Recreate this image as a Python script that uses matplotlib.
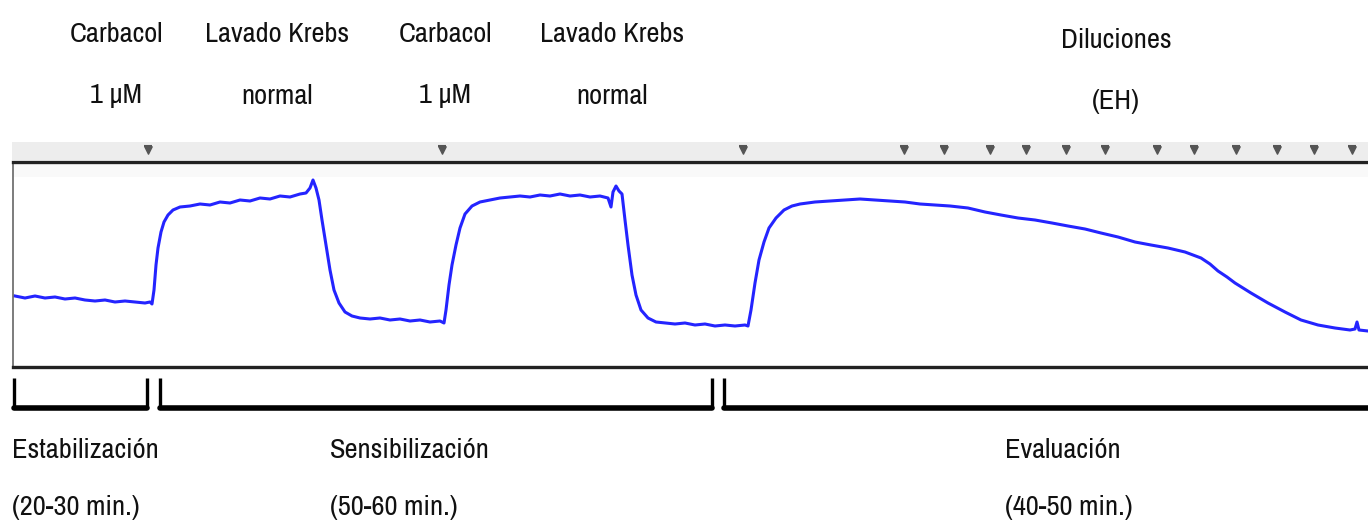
import matplotlib
matplotlib.use("Agg")
import matplotlib.pyplot as plt
import matplotlib.transforms as mtransforms
from matplotlib import font_manager

# pick a narrow face if one is installed
narrow = [f.name for f in font_manager.fontManager.ttflist
          if 'Narrow' in f.name or 'Condensed' in f.name or f.stretch in ('condensed', 'semi-condensed')]
plt.rcParams['font.family'] = sorted(set(narrow))[:1] + ['DejaVu Sans']

# isometric tension trace (time in min, tension in g)
time_min = [0.2, 1.2, 2.2, 3.2, 4.2, 5.2, 6.2, 7.2, 8.2, 9.2, 10.2, 11.2, 12.2, 13.2, 13.7, 13.9,
            14.1, 14.3, 14.5, 14.8, 15.1, 15.5, 16.0, 16.7, 17.7, 18.7, 19.7, 20.7, 21.7, 22.7, 23.7,
            24.7, 25.7, 26.7, 27.7, 28.7, 29.3, 29.7, 30.0, 30.3, 30.6, 30.9, 31.3, 31.7, 32.1, 32.6,
            33.2, 33.9, 34.7, 35.7, 36.7, 37.7, 38.7, 39.7, 40.7, 41.7, 42.7, 43.1,
            43.3, 43.6, 43.9, 44.3, 44.7, 45.2, 45.9, 46.7, 47.7, 48.7, 49.7, 50.7, 51.7, 52.7, 53.7,
            54.7, 55.7, 56.7, 57.7, 58.7, 59.5, 59.8, 60.0, 60.3, 60.6, 60.9, 61.2, 61.5, 61.9, 62.3,
            62.8, 63.5, 64.3, 65.2, 66.2, 67.2, 68.2, 69.2, 70.2, 71.2, 72.2, 73.2, 73.5,
            73.8, 74.2, 74.6, 75.1, 75.6, 76.3, 77.1, 77.9, 78.7, 80.2, 81.7, 83.2, 84.7, 86.2, 87.7,
            89.2, 90.7, 92.2, 93.7, 95.5, 97.2, 98.8, 100.5, 102.2, 103.9, 105.5, 107.2, 108.8, 110.5,
            112.2, 113.8, 115.5, 117.2, 118.8, 119.7, 120.5, 121.4, 122.2, 123.8, 125.5, 127.2, 128.8,
            130.5, 132.2, 133.7, 134.2, 134.4, 134.6, 135.5]
tension_g = [0.71, 0.69, 0.71, 0.69, 0.70, 0.68, 0.69, 0.67, 0.66, 0.67, 0.65, 0.66, 0.65, 0.64, 0.65, 0.63,
             0.77, 1.02, 1.19, 1.35, 1.45, 1.52, 1.57, 1.60, 1.61, 1.63, 1.62, 1.65, 1.64, 1.67, 1.66,
             1.69, 1.68, 1.71, 1.70, 1.73, 1.74, 1.79, 1.87, 1.79, 1.67, 1.47, 1.22, 0.97, 0.77, 0.64,
             0.55, 0.51, 0.49, 0.48, 0.49, 0.47, 0.48, 0.46, 0.47, 0.45, 0.46, 0.44,
             0.57, 0.82, 1.02, 1.22, 1.39, 1.53, 1.61, 1.65, 1.67, 1.69, 1.70, 1.71, 1.70, 1.72, 1.71,
             1.73, 1.71, 1.72, 1.70, 1.71, 1.69, 1.60, 1.75, 1.81, 1.76, 1.73, 1.47, 1.22, 0.92, 0.72,
             0.57, 0.49, 0.45, 0.44, 0.43, 0.44, 0.42, 0.43, 0.41, 0.42, 0.41, 0.42, 0.41,
             0.57, 0.84, 1.07, 1.25, 1.39, 1.49, 1.57, 1.61, 1.63, 1.65, 1.66, 1.67, 1.68, 1.67, 1.66,
             1.65, 1.63, 1.62, 1.61, 1.59, 1.55, 1.52, 1.49, 1.47, 1.44, 1.41, 1.38, 1.34, 1.30,
             1.25, 1.22, 1.19, 1.15, 1.09, 1.03, 0.96, 0.90, 0.84, 0.74, 0.64, 0.55, 0.47,
             0.42, 0.39, 0.37, 0.38, 0.45, 0.37, 0.36]

# event marks on the recorder strip
event_times = [13.5, 42.9, 73.0, 89.1, 93.1, 97.7, 101.3, 105.3, 109.2, 114.4, 118.1, 122.3, 126.4, 130.1, 133.9]

event_line1 = ["Carbacol", "Lavado Krebs", "Carbacol", "Lavado Krebs", "Diluciones"]
event_line2 = ["1 \u00b5M", "normal", "1 \u00b5M", "normal", "(EH)"]
event_label_x = [10.3, 26.4, 43.2, 59.9, 110.3]
event_label_dy = [0, 0, 0, 0, 5]

phase_names = ["Estabilizaci\u00f3n", "Sensibilizaci\u00f3n", "Evaluaci\u00f3n"]
phase_durations = ["(20-30 min.)", "(50-60 min.)", "(40-50 min.)"]
phase_start = [0.1, 14.7, 71.1]
phase_end = [13.4, 69.9, 137.0]
phase_label_x = [-0.1, 31.7, 99.2]

XMAX = 135.5
FS = 20.5

fig = plt.figure(figsize=(13.68, 5.29), dpi=100)

# trace box
ax = fig.add_axes([13 / 1368, 162 / 529, 1355 / 1368, 205 / 529])
ax.axhspan(1.90, 2.05, color='#f9f9f9', lw=0, zorder=0)
ax.plot(time_min, tension_g, color='#2424ff', lw=2.2, solid_joinstyle='round')
ax.set_xlim(0, XMAX)
ax.set_ylim(0, 2.05)
ax.set_xticks([])
ax.set_yticks([])
ax.spines['right'].set_visible(False)
ax.spines['top'].set_linewidth(2.4)
ax.spines['bottom'].set_linewidth(2.4)
ax.spines['top'].set_color('#222222')
ax.spines['bottom'].set_color('#222222')
ax.spines['left'].set_linewidth(1.2)
ax.spines['left'].set_color('#666666')

# event strip
strip = fig.add_axes([12 / 1368, 369 / 529, 1356 / 1368, 18 / 529])
strip.set_xlim(-0.1, XMAX)
strip.set_ylim(0, 1)
strip.axis('off')
strip.add_patch(plt.Rectangle((0, 0), 1, 1, transform=strip.transAxes, color='#ededed', zorder=0))
strip.scatter(event_times, [0.55] * len(event_times), marker='v', s=28, color='#555555', zorder=3)
strip.scatter(event_times, [0.8] * len(event_times), marker='_', s=40, color='#555555', lw=1.5, zorder=3)

top_tr = mtransforms.blended_transform_factory(strip.transData, fig.transFigure)
for l1, l2, xl, dy in zip(event_line1, event_line2, event_label_x, event_label_dy):
    fig.text(xl, 1 - (35 + dy) / 529, l1, transform=top_tr, ha='center', va='center',
             fontsize=FS, color='#111111', fontstretch='condensed')
    fig.text(xl, 1 - (96 + dy) / 529, l2, transform=top_tr, ha='center', va='center',
             fontsize=FS, color='#111111', fontstretch='condensed')

# phase brackets
br = fig.add_axes([0, 114 / 529, 1, 43 / 529])
br.set_xlim(-13 / 10, XMAX)
br.set_ylim(0, 1)
br.axis('off')
for x0, x1 in zip(phase_start, phase_end):
    br.plot([x0, x0], [0.86, 0.17], color='black', lw=2.4, solid_capstyle='butt')
    br.plot([x1, x1], [0.86, 0.17], color='black', lw=2.4, solid_capstyle='butt')
    br.plot([x0, x1], [0.17, 0.17], color='black', lw=4.0, solid_capstyle='round')

bot_tr = mtransforms.blended_transform_factory(br.transData, fig.transFigure)
for name, dur, xl in zip(phase_names, phase_durations, phase_label_x):
    fig.text(xl, 1 - 450 / 529, name, transform=bot_tr, ha='left', va='center',
             fontsize=FS, color='#111111', fontstretch='condensed')
    fig.text(xl, 1 - 507 / 529, dur, transform=bot_tr, ha='left', va='center',
             fontsize=FS, color='#111111', fontstretch='condensed')

fig.savefig("out.png", dpi=100, facecolor='white')
